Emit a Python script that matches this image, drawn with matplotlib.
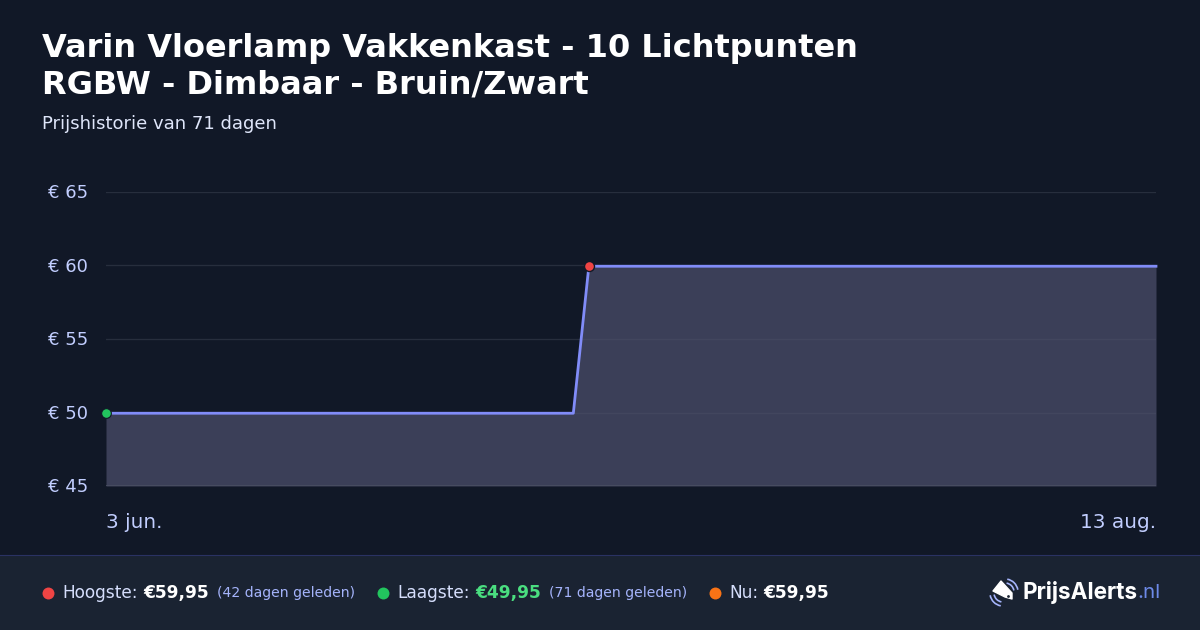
import matplotlib
matplotlib.use("Agg")
from matplotlib import pyplot as plt
from matplotlib.patches import Arc, Polygon, Rectangle
from matplotlib.transforms import ScaledTranslation

# data
dagen = [0, 31.6, 32.65, 71]
prijzen = [49.95, 49.95, 59.95, 59.95]
y_ticks = [45, 50, 55, 60, 65]
y_labels = ["€ 45", "€ 50", "€ 55", "€ 60", "€ 65"]
hoogste_dag, hoogste_prijs = 32.65, 59.95
laagste_dag, laagste_prijs = 0, 49.95

titel_regels = ["Varin Vloerlamp Vakkenkast - 10 Lichtpunten", "RGBW - Dimbaar - Bruin/Zwart"]
subtitel = "Prijshistorie van 71 dagen"
datum_start = "3 jun."
datum_eind = "13 aug."

BG = "#111827"
FOOTER = "#1a2332"
LIJN = "#818cf8"
TEKST = "#c2ceff"
W, H = 1200, 630


def px(s):
    # css pixels naar punten bij dpi 100
    return s * 0.72


plt.rcParams["font.family"] = ["DejaVu Sans"]
fig = plt.figure(figsize=(12, 6.3), dpi=100, facecolor=BG)

# achtergrondlaag in pixelcoordinaten
bg = fig.add_axes([0, 0, 1, 1])
bg.set_xlim(0, W)
bg.set_ylim(H, 0)
bg.axis("off")
bg.add_patch(Rectangle((0, 555), W, 75, color=FOOTER, lw=0))
bg.plot([0, W], [554.5, 554.5], color="#2a3263", lw=0.8)

for i, regel in enumerate(titel_regels):
    bg.text(42, 48 + i * 37, regel, color="white", fontsize=px(32), fontweight="bold", va="center")
bg.text(42, 124, subtitel, color="#dfe6fa", fontsize=px(18), va="center")

# grafiek
ax = fig.add_axes([106 / W, 1 - 486 / H, 1050 / W, 294 / H])
ax.set_facecolor("none")
ax.set_xlim(0, 71)
ax.set_ylim(45, 65)
ax.fill_between(dagen, prijzen, 45, color="#3b3f58", lw=0, zorder=1)
for t in y_ticks:
    ax.axhline(t, color="#1f2636", lw=1, zorder=0)
    ax.axhline(t, xmin=0, color="#ffffff", alpha=0.04, lw=1, zorder=2)
ax.axhline(45, color="#4a4f62", lw=1.2, zorder=2)
ax.plot(dagen, prijzen, color=LIJN, lw=2, zorder=3, solid_joinstyle="round", clip_on=False)
ax.plot([hoogste_dag], [hoogste_prijs], "o", ms=7.2, mfc="#ef4444", mec=BG, mew=1, zorder=4, clip_on=False)
ax.plot([laagste_dag], [laagste_prijs], "o", ms=7, mfc="#22c55e", mec=BG, mew=0.8, zorder=4, clip_on=False)
for s in ax.spines.values():
    s.set_visible(False)
ax.set_xticks([])
ax.set_yticks(y_ticks)
ax.set_yticklabels(y_labels, color=TEKST, fontsize=px(18))
ax.tick_params(axis="y", length=0, pad=0)
for lab in ax.get_yticklabels():
    lab.set_ha("left")
    lab.set_x(-58 / 1050)
    lab.set_va("center")
    lab.set_transform(lab.get_transform() + ScaledTranslation(0, -1.3 / 100, fig.dpi_scale_trans))

bg.text(106.5, 522, datum_start, color=TEKST, fontsize=px(20), va="center")
bg.text(1156, 522, datum_eind, color=TEKST, fontsize=px(20), va="center", ha="right")

# footer
y = 593
for x, kleur in [(47.5, "#ef4444"), (382.5, "#22c55e"), (714.5, "#f97316")]:
    bg.plot([x], [y], "o", ms=8.6, color=kleur, mew=0)

bg.text(62, y, "Hoogste:", color="#d5defc", fontsize=px(17), va="center")
bg.text(143, y, "€59,95", color="white", fontsize=px(17), fontweight="bold", va="center")
bg.text(217, y, "(42 dagen geleden)", color="#a5b4fc", fontsize=px(14), va="center")
bg.text(397, y, "Laagste:", color="#d5defc", fontsize=px(17), va="center")
bg.text(475, y, "€49,95", color="#4ade80", fontsize=px(17), fontweight="bold", va="center")
bg.text(549, y, "(71 dagen geleden)", color="#a5b4fc", fontsize=px(14), va="center")
bg.text(729, y, "Nu:", color="#d5defc", fontsize=px(17), va="center")
bg.text(763, y, "€59,95", color="white", fontsize=px(17), fontweight="bold", va="center")

# logo
for d in (18, 26):
    bg.add_patch(Arc((1005, 592), d, d, angle=0, theta1=-80, theta2=-10, color="#a5b4fc", lw=1.2))
    bg.add_patch(Arc((1003, 593), d, d, angle=0, theta1=100, theta2=170, color="#a5b4fc", lw=1.2))
bg.add_patch(Polygon([(1001, 581), (1012, 593), (1012, 599), (1005, 597), (993, 591)], closed=True,
                     color="white", lw=1, joinstyle="round", zorder=3))
bg.plot([1008], [596], "o", ms=2, color=FOOTER, mew=0, zorder=4)
bg.text(1022, 593, "PrijsAlerts", color="white", fontsize=px(22.6), fontweight="bold", family="Inter", va="center")
bg.text(1137, 593, ".nl", color="#6d8ae8", fontsize=px(20.5), family="Inter", va="center")

fig.savefig("out.png", dpi=100, facecolor=BG)
